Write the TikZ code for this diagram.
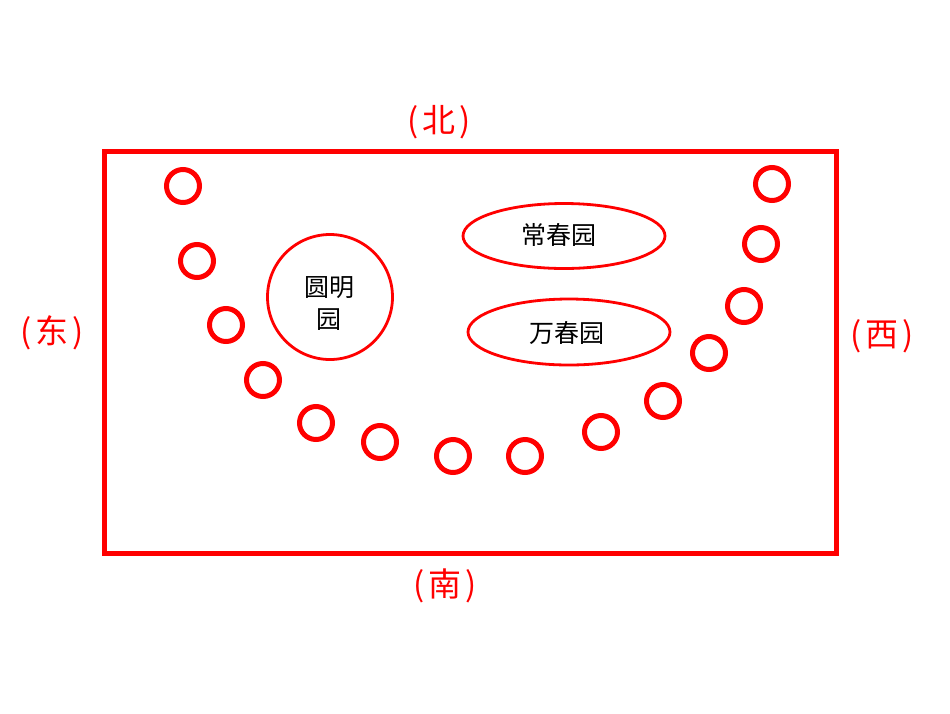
\documentclass[tikz,border=0pt]{standalone}
\usepackage{fontspec}
\usetikzlibrary{shapes.geometric}
\newfontfamily\cjk{Noto Sans CJK SC}
\definecolor{pred}{RGB}{255,0,0}
\newcommand{\dirlab}[1]{(\kern4pt#1\kern4pt)}
\tikzset{
  ring/.style={circle,draw=pred,line width=5pt,minimum size=33pt,inner sep=0pt},
  garden/.style={draw=pred,line width=2.8pt,inner sep=0pt,font=\cjk\fontsize{25}{32}\selectfont,text=black},
  dir/.style={font=\cjk\fontsize{33}{36}\selectfont,text=pred,inner sep=0pt}
}
\begin{document}
\begin{tikzpicture}[x=1pt,y=-1pt]
\useasboundingbox[fill=white] (0,0) rectangle (950,713);
\node[draw=pred,line width=5pt,minimum width=732pt,minimum height=402pt,inner sep=0pt] (frame) at (470,352) {};
\node[dir] (n) at (439,122) {\dirlab{北}};
\node[dir] (s) at (445,586) {\dirlab{南}};
\node[dir] (e) at (52,333) {\dirlab{东}};
\node[dir] (w) at (882,336) {\dirlab{西}};
\node[garden,circle,minimum size=125pt] (ymy) at (330,297) {};
\node[font=\cjk\fontsize{25}{32}\selectfont,align=center,inner sep=0pt] (ymyt) at (329,304) {圆明\\园};
\node[garden,ellipse,minimum width=202pt,minimum height=65pt] (ccy) at (564,236) {};
\node[font=\cjk\fontsize{25}{32}\selectfont,inner sep=0pt] (ccyt) at (559,235) {常春园};
\node[garden,ellipse,minimum width=202pt,minimum height=66pt] (wcy) at (569,332) {};
\node[font=\cjk\fontsize{25}{32}\selectfont,inner sep=0pt] (wcyt) at (567,333) {万春园};
\foreach \x/\y [count=\i] in {183/186,197/261,226/325,263/380,316/423,380/442,453/456,525/456,601/432,663/401,709/353,744/306,761/244,772/184}
  \node[ring] (c\i) at (\x,\y) {};
\end{tikzpicture}
\end{document}
